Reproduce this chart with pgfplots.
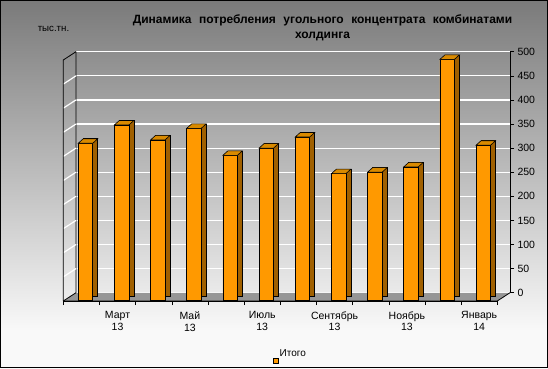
\documentclass[border=0pt]{standalone}
\usepackage{fontspec}
\setmainfont{Liberation Sans}
\usepackage{pgfplots}
\usepackage{pgfplotstable}
\pgfplotsset{compat=1.18}
\definecolor{barfront}{HTML}{FF9900}
\definecolor{barcap}{HTML}{D98A00}
\definecolor{barside}{HTML}{A06000}
\definecolor{floorc}{HTML}{969696}
\definecolor{bgtop}{HTML}{7A7A7A}
\definecolor{bgbot}{HTML}{F9F9F9}
\pgfdeclareverticalshading{bgshade}{100bp}{color(0bp)=(bgbot); color(30bp)=(bgbot); color(75bp)=(bgtop); color(100bp)=(bgtop)}
\pgfdeclareplotmark{cap}{%
 \pgfpathmoveto{\pgfpoint{-7.25pt}{0pt}}%
 \pgfpathlineto{\pgfpoint{7.25pt}{0pt}}%
 \pgfpathlineto{\pgfpoint{12.25pt}{4.5pt}}%
 \pgfpathlineto{\pgfpoint{-2.25pt}{4.5pt}}%
 \pgfpathclose
 \pgfusepathqfillstroke}
\pgfplotstableread{
x y
1 326
2 364
3 333
4 357
5 301
6 316
7 339
8 263
9 266
10 277
11 500
12 322
}\data
\begin{document}
\begin{tikzpicture}
\shade[shading=bgshade] (0,0) rectangle (548pt,368pt);
\draw[black, line width=1pt] (0.5pt,0.5pt) rectangle (547.5pt,367.5pt);
\node[font=\bfseries\fontsize{12}{15}\selectfont, align=center] at (322.5pt,340pt) {\spaceskip=7.5pt Динамика потребления угольного концентрата комбинатами\\холдинга};
\node[font=\fontsize{9.7}{11}\selectfont] at (53.5pt,339pt) {тыс.тн.};
\begin{axis}[at={(76pt,75.3pt)}, anchor=south west, scale only axis,
  width=434pt, height=241pt, xmin=0.5, xmax=12.5, ymin=0, ymax=500, clip=false,
  axis x line=none, axis y line*=right, y axis line style={black, line width=0.8pt, -},
  ytick={0,50,...,500}, ymajorgrids, grid style={white, line width=1.2pt},
  tick align=outside, major tick length=4pt, tick style={black, line width=0.6pt},
  yticklabel style={font=\fontsize{10.5}{12}\selectfont, anchor=west},
  /pgf/number format/assume math mode=true,
  legend style={at={(0.493,-0.262)}, anchor=center, draw=none, fill=none,
    font=\fontsize{10}{12}\selectfont, inner sep=0pt, nodes={inner sep=1pt}},
  legend image code/.code={\draw[fill=barfront, draw=black, line width=0.5pt] (0pt,-2.3pt) rectangle (5pt,2.3pt);},
]
\fill[floorc] (axis cs:0.5,0) -- (axis cs:12.5,0) -- ([shift={(-12.7pt,-8.3pt)}]axis cs:12.5,0) -- ([shift={(-12.7pt,-8.3pt)}]axis cs:0.5,0) -- cycle;
\draw[white!92!gray, line width=1pt] (axis cs:0.5,0) -- (axis cs:12.5,0);
\draw[black, line width=0.8pt] ([shift={(-12.7pt,-8.3pt)}]axis cs:0.5,0) -- (axis cs:0.5,0) -- (axis cs:0.5,500);
\pgfplotsinvokeforeach{50,100,...,450}{\draw[white, line width=1.2pt] ([shift={(-12.7pt,-8.3pt)}]axis cs:0.5,#1) -- (axis cs:0.5,#1);}
\draw[black, line width=0.8pt] ([shift={(-12.7pt,-8.3pt)}]axis cs:0.5,0) -- ([shift={(-12.7pt,-8.3pt)}]axis cs:0.5,500) -- (axis cs:0.5,500);
\draw[black, line width=0.8pt] ([shift={(-12.7pt,-8.3pt)}]axis cs:0.5,0) -- ([shift={(-12.7pt,-8.3pt)}]axis cs:12.5,0) -- (axis cs:12.5,0);
\addplot[ybar, bar width=14.5pt, bar shift=0pt, fill=barside, draw=black, line width=0.6pt, xshift=-3.6pt, yshift=-3.2pt, forget plot] table[x=x,y=y]{\data};
\addplot[ybar, bar width=14.5pt, bar shift=0pt, fill=barfront, draw=black, line width=0.6pt, xshift=-8.6pt, yshift=-7.7pt] table[x=x,y=y]{\data};
\addlegendentry{Итого}
\addplot[only marks, mark=cap, mark options={fill=barcap, draw=black, line width=0.6pt}, xshift=-8.6pt, yshift=-7.7pt, forget plot] table[x=x,y=y]{\data};
\end{axis}
\begin{axis}[at={(63.3pt,67pt)}, anchor=south west, scale only axis,
  width=434pt, height=241pt, xmin=0.5, xmax=12.5, ymin=0, ymax=500,
  axis y line=none, axis x line*=bottom, x axis line style={black, line width=0.8pt, -},
  xtick={0.5,1.5,...,12.5}, xticklabels={},
  tick align=outside, major tick length=4pt, tick style={black, line width=0.6pt},
  extra x ticks={2,4,6,8,10,12},
  extra x tick labels={Март\\13,Май\\13,Июль\\13,Сентябрь\\13,Ноябрь\\13,Январь\\14},
  extra x tick style={major tick length=0pt, xticklabel style={align=center, font=\fontsize{10.5}{11.7}\selectfont, yshift=-7pt}},
]
\end{axis}
\end{tikzpicture}
\end{document}
